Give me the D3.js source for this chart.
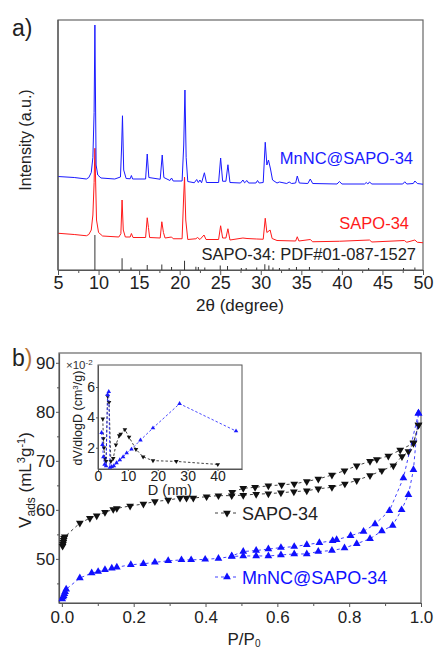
<!DOCTYPE html>
<html>
<head>
<meta charset="utf-8">
<script src="https://cdn.jsdelivr.net/npm/d3@7"></script>
<style>
  body { margin: 0; background: #fff; }
  svg { display: block; font-family: "Liberation Sans", Arial, sans-serif; }
  .axis path, .axis line { stroke: #555; }
  .axis text { fill: #222; }
</style>
</head>
<body>
<div id="chart"></div>
<script>
// ---- panel a: XRD patterns, [2theta, intensity a.u.] ----
const xrdMnNC = [[5,37.4],[7,37],[8.5,36.4],[8.8,37],[9.1,39],[9.3,45],[9.45,63],[9.55,98],[9.62,70],[9.7,42],[9.9,38],
  [10.3,36.8],[12,36.4],[12.7,37.2],[12.85,50],[12.95,61.7],[13.1,40],[13.4,36.6],[13.9,36.5],[14.05,37.8],[14.2,36.4],
  [15.8,36.4],[16.0,46.4],[16.2,37],[17.6,36.3],[17.85,46],[18.05,37],[18.8,35.8],[19.0,36.8],[19.2,35.6],[20.3,35.6],
  [20.5,50],[20.65,72],[20.8,45],[21.0,35.4],[21.8,34.9],[22.1,36.2],[22.3,35.0],[22.5,36.0],[22.7,34.9],[23.05,38.9],
  [23.3,35],[24.8,35],[25.05,44.8],[25.3,35.5],[25.7,35.5],[25.95,42.1],[26.2,35],[27.5,34.8],[27.8,36],[28.0,34.9],
  [28.3,35.8],[28.5,34.8],[29.4,34.8],[29.6,35.8],[29.8,34.8],[30.3,35],[30.55,51.1],[30.75,42],[30.95,44],[31.2,40.4],
  [31.45,36],[32,34.8],[32.3,35.2],[33.2,34.6],[33.5,35.2],[33.8,34.6],[34.3,34.8],[34.5,37.6],[34.75,34.8],[35.8,34.6],
  [36.1,36.4],[36.4,34.6],[39.4,34.4],[39.7,35.4],[40.0,34.4],[42.8,34.4],[43.0,35],[43.2,34.4],[43.4,35.2],[43.7,34.4],
  [47.5,34.4],[47.75,35.3],[48.0,34.4],[48.8,34.6],[49.0,35.6],[49.3,34.6],[50,34.3]];

const xrdSapo = [[5,14.7],[7,14.2],[8.5,13.7],[8.8,14.2],[9.1,16],[9.3,22],[9.45,35],[9.55,48.7],[9.65,34],[9.75,20],[10.0,15],
  [10.5,13.6],[12.5,13.2],[12.75,14.5],[12.9,28],[13.05,16],[13.3,13.2],[13.9,13.2],[14.05,14.6],[14.25,13],[15.8,13],
  [16.0,20.9],[16.15,17],[16.3,13],[17.6,12.8],[17.8,19.3],[18.0,15],[18.2,12.8],[19.0,13.2],[19.2,12.5],[20.3,12.5],
  [20.5,30],[20.6,37.1],[20.75,20],[21.0,12.2],[22.0,12.5],[22.2,13],[22.5,12.2],[23.0,14],[23.25,12.2],[24.8,12.2],
  [25.05,17.7],[25.3,12.8],[25.7,12.8],[25.95,16.5],[26.2,12],[27.8,12.8],[28.3,12.6],[29.5,12.4],[30.3,12.3],
  [30.55,20.7],[30.75,15],[31.15,16],[31.4,12.6],[32,11.8],[34.3,11.6],[34.5,13.3],[34.7,11.6],[36.1,12.2],[36.4,11.3],
  [39.7,11.5],[43.4,12],[43.7,11.2],[47.7,11.8],[48.0,11.1],[49.0,12],[49.3,11.1],[50,10.9]];

// reference card PDF#01-087-1527 sticks
const pdfSticks = [[9.55,14],[12.9,4.7],[14.0,1],[16.0,2],[17.8,2.2],[19.0,1.2],[20.6,3.7],[22.0,1.3],[22.3,1.2],
  [23.1,1],[25.0,1.8],[25.9,1.6],[27.6,0.8],[28.2,0.8],[29.5,1],[30.5,2.3],[31.0,1.8],[31.5,1],[32.3,0.8],[33.5,0.8],
  [34.4,1.2],[36.0,1.2],[39.6,0.8],[43.3,0.8],[47.6,0.8],[49.0,1]];

const xTicksA = [5,10,15,20,25,30,35,40,45,50];

// ---- panel b: N2 isotherms, P/P0 and V ----
const sapoAdsP = [0.002,0.003,0.004,0.005,0.006,0.008,0.05,0.078,0.097,0.12,0.143,0.153,0.19,0.227,0.259,0.296,0.329,0.347,0.366,0.403,0.436,0.473,0.505,0.541,0.575,0.61,0.646,0.682,0.714,0.752,0.788,0.821,0.858,0.891,0.923,0.947,0.965,0.979,0.993];
const sapoAdsV = [52.6,53.0,53.4,53.8,54.2,54.5,57.3,58.3,58.8,59.5,60.1,60.3,60.8,61.2,61.7,62.0,62.4,62.4,62.4,62.7,62.9,62.9,63.0,63.2,63.3,63.5,63.7,63.9,64.3,64.6,65.3,66.0,67.0,68.0,69.0,70.9,71.9,73.7,77.3];
const sapoDesP = [0.993,0.979,0.942,0.909,0.877,0.858,0.821,0.787,0.752,0.714,0.682,0.647,0.612,0.575,0.538,0.505,0.474];
const sapoDesV = [77.3,73.6,72.2,71.0,70.3,69.9,69.0,68.0,67.1,66.3,65.8,65.3,65.1,64.9,64.6,64.4,63.6];

const mnAdsP = [0.001,0.003,0.005,0.007,0.009,0.012,0.05,0.083,0.101,0.12,0.139,0.153,0.192,0.227,0.259,0.296,0.333,0.36,0.399,0.436,0.473,0.505,0.541,0.575,0.61,0.647,0.682,0.714,0.752,0.787,0.821,0.858,0.891,0.921,0.946,0.965,0.979,0.993];
const mnAdsV = [41.8,42.2,42.5,42.9,43.3,43.8,46.1,47.1,47.4,47.8,48.1,48.3,48.8,49.0,49.3,49.6,49.8,49.8,49.9,50.1,50.5,50.6,50.6,50.6,50.8,51.0,51.0,51.5,51.7,52.2,53.1,54.1,55.7,56.8,60.0,63.1,68.2,79.7];
const mnDesP = [0.993,0.951,0.912,0.872,0.840,0.804,0.765,0.754,0.717,0.682,0.647,0.610,0.575,0.541,0.505,0.473];
const mnDesV = [79.7,66.5,59.8,57.1,55.6,54.7,53.9,53.7,53.3,52.9,52.5,52.3,52.0,51.7,51.5,50.6];

const xTicksB = [0, 0.2, 0.4, 0.6, 0.8, 1.0];
const yTicksB = [50, 60, 70, 80, 90];

// inset: pore size distribution, D (nm) and dV/dlogD (x1e-2)
const psdSapoD = [1.6,1.8,2.0,2.3,2.7,3.2,3.7,4.3,5.1,6.0,7.1,7.6,9.0,10.4,12.7,15.1,18.4,26.2,40.1];
const psdSapoV = [3.9,2.6,2.0,1.3,1.1,5.4,5.0,1.1,1.3,2.2,2.8,2.9,3.2,2.7,1.9,1.4,1.15,1.1,0.9];
const psdMnD = [1.2,1.5,1.8,2.2,2.7,3.2,3.6,4.0,4.6,5.3,6.2,7.3,8.4,9.6,11.2,14.2,18.4,27.3,46.2];
const psdMnV = [3.0,2.2,1.4,0.9,0.8,5.5,5.7,0.7,0.75,0.8,1.0,1.2,1.4,1.65,1.9,2.5,3.3,4.9,3.1];

const W = 434, H = 650;
const svg = d3.select("#chart").append("svg")
    .attr("width", W)
    .attr("height", H);

svg.append("rect").attr("width", W).attr("height", H).attr("fill", "#fff");

/* ---------------- panel a ---------------- */
const xA = d3.scaleLinear().domain([5, 50]).range([58, 423]);
const yA = d3.scaleLinear().domain([0, 100]).range([270, 20]);

svg.append("rect")
    .attr("x", 58).attr("y", 20)
    .attr("width", 423 - 58).attr("height", 250)
    .attr("fill", "none").attr("stroke", "#666").attr("stroke-width", 1.2);

const lineA = d3.line().x(d => xA(d[0])).y(d => yA(d[1]));

svg.append("g")
    .selectAll("line")
    .data(pdfSticks)
    .join("line")
    .attr("x1", d => xA(d[0])).attr("x2", d => xA(d[0]))
    .attr("y1", yA(0)).attr("y2", d => yA(d[1]))
    .attr("stroke", "#333").attr("stroke-width", 1);

svg.append("path").datum(xrdSapo)
    .attr("d", lineA).attr("fill", "none")
    .attr("stroke", "#ff1a1a").attr("stroke-width", 1);

svg.append("path").datum(xrdMnNC)
    .attr("d", lineA).attr("fill", "none")
    .attr("stroke", "#1a1aff").attr("stroke-width", 1);

// minor ticks
svg.append("g")
    .attr("class", "axis")
    .attr("transform", "translate(0,270)")
    .call(d3.axisBottom(xA).tickValues(d3.range(7.5, 50, 5)).tickSize(3).tickFormat(""))
    .call(g => g.select(".domain").remove());

svg.append("g")
    .attr("class", "axis")
    .attr("transform", "translate(0,270)")
    .call(d3.axisBottom(xA).tickValues(xTicksA).tickSize(5).tickPadding(1).tickSizeOuter(0).tickFormat(d3.format("d")))
    .call(g => g.selectAll("text").attr("font-size", 18))
    .call(g => g.select(".domain").attr("stroke-width", 1.2));

svg.append("line")
    .attr("x1", 58).attr("x2", 58).attr("y1", 20).attr("y2", 270)
    .attr("stroke", "#555").attr("stroke-width", 1.2);

svg.append("text")
    .attr("x", 240).attr("y", 311)
    .attr("text-anchor", "middle")
    .attr("font-size", 17)
    .attr("fill", "#222")
    .text("2θ (degree)");

svg.append("text")
    .attr("transform", "translate(31,140) rotate(-90)")
    .attr("text-anchor", "middle")
    .attr("font-size", 16)
    .attr("fill", "#222")
    .text("Intensity (a.u.)");

svg.append("text")
    .attr("x", 12).attr("y", 36)
    .attr("font-size", 23)
    .attr("fill", "#222")
    .text("a)");

svg.append("text")
    .attr("x", 413).attr("y", 164)
    .attr("text-anchor", "end")
    .attr("font-size", 16.5)
    .attr("fill", "#1a1aff")
    .text("MnNC@SAPO-34");

svg.append("text")
    .attr("x", 409).attr("y", 229)
    .attr("text-anchor", "end")
    .attr("font-size", 16.5)
    .attr("fill", "#ff1a1a")
    .text("SAPO-34");

svg.append("text")
    .attr("x", 416).attr("y", 260)
    .attr("text-anchor", "end")
    .attr("font-size", 16.5)
    .attr("fill", "#222")
    .text("SAPO-34: PDF#01-087-1527");

/* ---------------- panel b ---------------- */
const xB = d3.scaleLinear().domain([-0.008, 1.0]).range([59, 421]);
const yB = d3.scaleLinear().domain([41.0, 92.0]).range([603, 353]);

svg.append("rect")
    .attr("x", 59).attr("y", 353)
    .attr("width", 421 - 59).attr("height", 603 - 353)
    .attr("fill", "none").attr("stroke", "#666").attr("stroke-width", 1.2);

svg.append("g")
    .attr("class", "axis")
    .attr("transform", "translate(0,603)")
    .call(d3.axisBottom(xB).tickValues(d3.range(0.1, 1.0, 0.2)).tickSize(3).tickFormat(""))
    .call(g => g.select(".domain").remove());

svg.append("g")
    .attr("class", "axis")
    .attr("transform", "translate(0,603)")
    .call(d3.axisBottom(xB).tickValues(xTicksB).tickSize(4).tickPadding(4).tickSizeOuter(0).tickFormat(d3.format(".1f")))
    .call(g => g.selectAll("text").attr("font-size", 17))
    .call(g => g.select(".domain").attr("stroke-width", 1.2));

svg.append("g")
    .attr("class", "axis")
    .attr("transform", "translate(59,0)")
    .call(d3.axisLeft(yB).tickValues([45, 55, 65, 75, 85]).tickSize(2).tickFormat(""))
    .call(g => g.select(".domain").remove());

svg.append("g")
    .attr("class", "axis")
    .attr("transform", "translate(59,0)")
    .call(d3.axisLeft(yB).tickValues(yTicksB).tickSize(3).tickPadding(1).tickSizeOuter(0).tickFormat(d3.format("d")))
    .call(g => g.selectAll("text").attr("font-size", 17))
    .call(g => g.select(".domain").attr("stroke-width", 1.2));

const lineB = d3.line().x(d => xB(d[0])).y(d => yB(d[1]));
const zip = (a, b) => a.map((v, i) => [v, b[i]]);

const isoSeries = [
    {pts: zip(sapoAdsP, sapoAdsV), color: "#111", down: true},
    {pts: zip(sapoDesP, sapoDesV), color: "#111", down: true},
    {pts: zip(mnAdsP, mnAdsV), color: "#1010ff", down: false},
    {pts: zip(mnDesP, mnDesV), color: "#1010ff", down: false}
];

const triB = d3.symbol().type(d3.symbolTriangle).size(26);

isoSeries.forEach(s => {
    svg.append("path").datum(s.pts)
        .attr("d", lineB).attr("fill", "none")
        .attr("stroke", s.color).attr("stroke-width", 0.8)
        .attr("stroke-dasharray", "3,3");
    svg.append("g")
        .selectAll("path")
        .data(s.pts)
        .join("path")
        .attr("d", triB)
        .attr("fill", s.color)
        .attr("transform", d => `translate(${xB(d[0])},${yB(d[1])})` + (s.down ? " rotate(180)" : ""));
});

// legend
const legend = [
    {label: "SAPO-34", color: "#111", down: true, y: 513},
    {label: "MnNC@SAPO-34", color: "#1010ff", down: false, y: 577}
];
legend.forEach(l => {
    svg.append("line")
        .attr("x1", 215).attr("x2", 239).attr("y1", l.y).attr("y2", l.y)
        .attr("stroke", l.color).attr("stroke-width", 0.8).attr("stroke-dasharray", "3,3");
    svg.append("path")
        .attr("d", triB)
        .attr("fill", l.color)
        .attr("transform", `translate(227,${l.y})` + (l.down ? " rotate(180)" : ""));
    svg.append("text")
        .attr("x", 242).attr("y", l.y + 6.5)
        .attr("font-size", 18)
        .attr("fill", l.color === "#111" ? "#222" : l.color)
        .text(l.label);
});

// axis titles
svg.append("text")
    .attr("x", 244).attr("y", 645)
    .attr("text-anchor", "middle")
    .attr("font-size", 17)
    .attr("fill", "#222")
    .text("P/P")
    .append("tspan").attr("font-size", 10).attr("dy", 1.5).text("0");

const yTitle = svg.append("text")
    .attr("transform", "translate(31,480) rotate(-90)")
    .attr("text-anchor", "middle")
    .attr("font-size", 17)
    .attr("fill", "#222");
yTitle.append("tspan").text("V");
yTitle.append("tspan").attr("font-size", 12).attr("dy", 4).text("ads");
yTitle.append("tspan").attr("dy", -4).text(" (mL");
yTitle.append("tspan").attr("font-size", 11).attr("dy", -6).text("3");
yTitle.append("tspan").attr("dy", 6).text("g");
yTitle.append("tspan").attr("font-size", 11).attr("dy", -6).text("-1");
yTitle.append("tspan").attr("dy", 6).text(")");

const bLabel = svg.append("text")
    .attr("x", 12).attr("y", 366)
    .attr("font-size", 23)
    .attr("fill", "#222");
bLabel.append("tspan").text("b");
bLabel.append("tspan").attr("fill", "#b87333").text(")");

/* ---------------- inset ---------------- */
const xI = d3.scaleLinear().domain([0, 48.2]).range([98, 242]);
const yI = d3.scaleLinear().domain([0.6, 7.45]).range([469, 365]);

svg.append("rect")
    .attr("x", 98).attr("y", 365)
    .attr("width", 242 - 98).attr("height", 469 - 365)
    .attr("fill", "#fff").attr("stroke", "#555").attr("stroke-width", 1);

svg.append("g")
    .attr("class", "axis")
    .attr("transform", "translate(0,469)")
    .call(d3.axisBottom(xI).tickValues([0, 10, 20, 30, 40]).tickSize(2).tickPadding(0).tickSizeOuter(0).tickFormat(d3.format("d")))
    .call(g => g.selectAll("text").attr("font-size", 14).attr("fill", "#333"));

svg.append("g")
    .attr("class", "axis")
    .attr("transform", "translate(98,0)")
    .call(d3.axisLeft(yI).tickValues([2, 4, 6]).tickSize(2).tickPadding(1).tickSizeOuter(0).tickFormat(d3.format("d")))
    .call(g => g.selectAll("text").attr("font-size", 14).attr("fill", "#333"));

const lineI = d3.line().x(d => xI(d[0])).y(d => yI(d[1]));
const triI = d3.symbol().type(d3.symbolTriangle).size(9);

const psdSeries = [
    {pts: zip(psdSapoD, psdSapoV), color: "#111", down: true},
    {pts: zip(psdMnD, psdMnV), color: "#1a1aff", down: false}
];
psdSeries.forEach(s => {
    svg.append("path").datum(s.pts)
        .attr("d", lineI).attr("fill", "none")
        .attr("stroke", s.color).attr("stroke-width", 0.8)
        .attr("stroke-dasharray", "2.5,2");
    svg.append("g")
        .selectAll("path")
        .data(s.pts)
        .join("path")
        .attr("d", triI)
        .attr("fill", s.color)
        .attr("transform", d => `translate(${xI(d[0])},${yI(d[1])})` + (s.down ? " rotate(180)" : ""));
});

svg.append("text")
    .attr("x", 170).attr("y", 495)
    .attr("text-anchor", "middle")
    .attr("font-size", 14.5)
    .attr("fill", "#222")
    .text("D (nm)");

const iTitle = svg.append("text")
    .attr("transform", "translate(82,418) rotate(-90)")
    .attr("text-anchor", "middle")
    .attr("font-size", 12.5)
    .attr("fill", "#222");
iTitle.append("tspan").text("dV/dlogD (cm");
iTitle.append("tspan").attr("font-size", 8).attr("dy", -4).text("3");
iTitle.append("tspan").attr("dy", 4).text("/g)");

const mult = svg.append("text")
    .attr("x", 66).attr("y", 369)
    .attr("font-size", 11.5)
    .attr("fill", "#333");
mult.append("tspan").text("×10");
mult.append("tspan").attr("font-size", 8).attr("dy", -4).text("-2");
</script>
</body>
</html>
